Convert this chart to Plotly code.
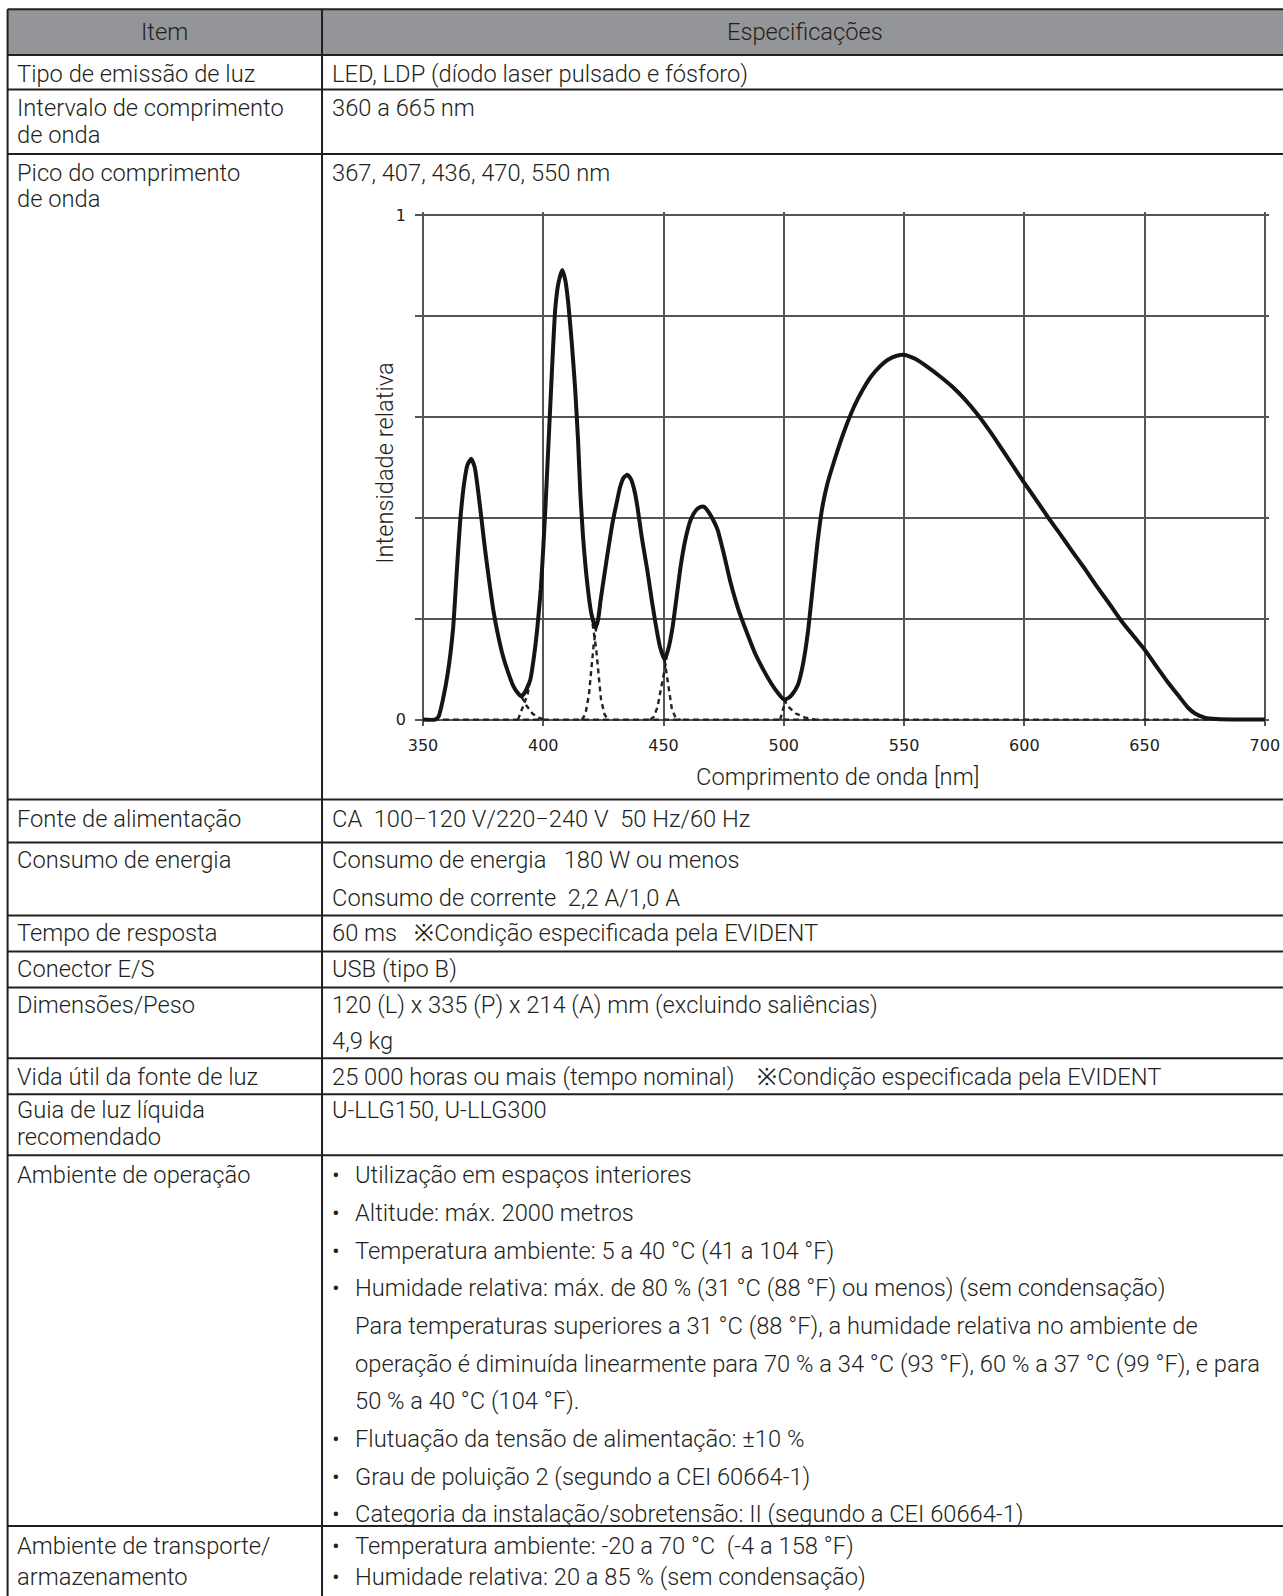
import plotly.graph_objects as go

# ---------------- chart data ----------------
wavelength = [350, 355, 356.5, 358.3, 360.4, 362.5, 364, 365.4, 367, 368.5,
              370, 371.5, 373, 374.5, 375.8, 377.5, 379.2, 381, 383.3, 385.5,
              387.5, 389.5, 390.8, 392.5, 394.6, 396, 397.5, 399, 400, 401,
              402, 403, 404, 405, 406.3, 407.9, 409.2, 410.4, 411.8, 413.3,
              414.5, 415.4, 416.5, 418.3, 420, 421.7, 422.8, 423.8, 425.5, 427,
              428.8, 430.8, 432, 433.5, 435, 436.5, 438, 439.2, 441, 443.3,
              445, 446.7, 448.5, 450.4, 452, 453.8, 455.5, 457.1, 459, 461.3,
              463.5, 465.2, 466.7, 468.5, 470.5, 472.5, 475, 477.9, 481, 485,
              488, 491.7, 495, 497.5, 500, 502, 503.5, 505.8, 508, 510,
              512, 514, 516, 518, 520.8, 525, 529.2, 533, 536.3, 540,
              543.3, 547, 550, 555, 560, 565, 570, 575, 580, 585,
              590, 595, 600, 605, 610, 615, 620, 625, 630, 635,
              640, 645, 650, 655, 660, 665, 668, 671, 675, 680,
              690, 700]
intensity = [0, 0, 0.006, 0.04, 0.095, 0.18, 0.29, 0.39, 0.465, 0.505,
             0.517, 0.50, 0.45, 0.39, 0.337, 0.275, 0.218, 0.172, 0.125, 0.092,
             0.067, 0.052, 0.046, 0.055, 0.079, 0.12, 0.18, 0.26, 0.34, 0.43,
             0.53, 0.63, 0.73, 0.815, 0.865, 0.891, 0.87, 0.825, 0.75, 0.653,
             0.55, 0.45, 0.365, 0.27, 0.21, 0.182, 0.198, 0.235, 0.29, 0.337,
             0.39, 0.436, 0.462, 0.48, 0.485, 0.476, 0.452, 0.42, 0.36, 0.295,
             0.24, 0.19, 0.145, 0.119, 0.14, 0.184, 0.245, 0.303, 0.355, 0.396,
             0.415, 0.421, 0.422, 0.413, 0.397, 0.376, 0.33, 0.271, 0.22, 0.168,
             0.132, 0.097, 0.07, 0.053, 0.040, 0.043, 0.05, 0.068, 0.11, 0.172,
             0.26, 0.35, 0.42, 0.465, 0.51, 0.57, 0.62, 0.655, 0.68, 0.70,
             0.713, 0.721, 0.723, 0.714, 0.698, 0.68, 0.66, 0.636, 0.608, 0.576,
             0.541, 0.505, 0.469, 0.435, 0.40, 0.367, 0.333, 0.30, 0.265, 0.232,
             0.198, 0.168, 0.139, 0.105, 0.072, 0.042, 0.024, 0.012, 0.004, 0.001,
             0, 0]

# dashed individual-component tails (visible below the valleys) and dashed baseline
tails = [
    ([391, 393, 395.5, 398, 400.5], [0.045, 0.028, 0.012, 0.004, 0.0]),
    ([389.5, 390.5, 392, 393.5, 394.6], [0.0, 0.012, 0.03, 0.05, 0.079]),
    ([420.5, 422, 423, 424, 425.5, 427], [0.19, 0.14, 0.09, 0.04, 0.01, 0.0]),
    ([416, 417.5, 419, 420, 421, 422.3], [0.0, 0.01, 0.05, 0.1, 0.15, 0.19]),
    ([450.4, 451.5, 452.5, 453.5, 455, 457], [0.119, 0.08, 0.045, 0.02, 0.004, 0.0]),
    ([444.5, 446, 447.5, 449, 450.5, 451.5], [0.0, 0.006, 0.025, 0.06, 0.1, 0.13]),
    ([500, 502, 505, 509, 513], [0.04, 0.025, 0.012, 0.004, 0.0]),
    ([498.5, 499.3, 500.3, 501], [0.0, 0.012, 0.03, 0.042]),
]
baseline_wl = [350, 700]
baseline_val = [0, 0]

x_tick_vals = [350, 400, 450, 500, 550, 600, 650, 700]
y_tick_vals = [0, 0.2, 0.4, 0.6, 0.8, 1]
y_tick_text = ["0", "", "", "", "", "1"]
x_title = "Comprimento de onda [nm]"
y_title = "Intensidade relativa"

# ---------------- table data ----------------
header = ["Item", "Especificações"]
items = [
    ["Tipo de emissão de luz"],
    ["Intervalo de comprimento", "de onda"],
    ["Pico do comprimento", "de onda"],
    ["Fonte de alimentação"],
    ["Consumo de energia"],
    ["Tempo de resposta"],
    ["Conector E/S"],
    ["Dimensões/Peso"],
    ["Vida útil da fonte de luz"],
    ["Guia de luz líquida", "recomendado"],
    ["Ambiente de operação"],
    ["Ambiente de transporte/", "armazenamento"],
]
specs = [
    ["LED, LDP (díodo laser pulsado e fósforo)"],
    ["360 a 665 nm"],
    ["367, 407, 436, 470, 550 nm"],
    ["CA  100−120 V/220−240 V  50 Hz/60 Hz"],
    ["Consumo de energia   180 W ou menos", "Consumo de corrente  2,2 A/1,0 A"],
    ["60 ms   ※Condição especificada pela EVIDENT"],
    ["USB (tipo B)"],
    ["120 (L) x 335 (P) x 214 (A) mm (excluindo saliências)", "4,9 kg"],
    ["25 000 horas ou mais (tempo nominal)    ※Condição especificada pela EVIDENT"],
    ["U-LLG150, U-LLG300"],
    ["• Utilização em espaços interiores",
     "• Altitude: máx. 2000 metros",
     "• Temperatura ambiente: 5 a 40 °C (41 a 104 °F)",
     "• Humidade relativa: máx. de 80 % (31 °C (88 °F) ou menos) (sem condensação)",
     "Para temperaturas superiores a 31 °C (88 °F), a humidade relativa no ambiente de",
     "operação é diminuída linearmente para 70 % a 34 °C (93 °F), 60 % a 37 °C (99 °F), e para",
     "50 % a 40 °C (104 °F).",
     "• Flutuação da tensão de alimentação: ±10 %",
     "• Grau de poluição 2 (segundo a CEI 60664-1)",
     "• Categoria da instalação/sobretensão: II (segundo a CEI 60664-1)"],
    ["• Temperatura ambiente: -20 a 70 °C  (-4 a 158 °F)",
     "• Humidade relativa: 20 a 85 % (sem condensação)"],
]

# ---------------- layout geometry ----------------
W, H = 1283, 1596
# mapping from wanted picture pixels to figure pixels
SX, OX = 0.9862, 6.9
SY, OY = 0.9945, 5.85

def px(x):
    return ((x - OX) / SX) / W

def py(y):
    return 1 - ((y - OY) / SY) / H

table_left, divider, table_right = 7.5, 322, W + 30
header_top, header_bottom = 9, 55
row_lines = [55, 89.5, 154, 800, 843, 916, 952, 988, 1059, 1095, 1156, 1527, 1800]
spec_gaps = [37, 37, 37, 37, 37.7, 37, 37, 35.6, 37, 37, 37.7, 31]
item_gaps = [26.5, 26.5, 26.5, 26.5, 26.5, 26.5, 26.5, 26.5, 26.5, 26.5, 26.5, 31]
first_line_offsets = [18.5, 18.5, 18.5, 19, 18, 18, 18, 18, 18.5, 16, 20, 20]
item_x, spec_x, bullet_text_x = 15, 330, 353

FONT = "Roboto, Liberation Sans, Arial, sans-serif"
TXT = "#231f20"
FS = 23.7

fig = go.Figure()

fig.add_trace(go.Scatter(x=baseline_wl, y=baseline_val, mode="lines",
                         line=dict(color="#222222", width=2.4, dash="6px,4px"),
                         hoverinfo="skip", showlegend=False))
for twl, tval in tails:
    fig.add_trace(go.Scatter(x=twl, y=tval, mode="lines",
                             line=dict(color="#222222", width=2.4, dash="5px,4px"),
                             hoverinfo="skip", showlegend=False))
fig.add_trace(go.Scatter(x=wavelength, y=intensity, mode="lines",
                         line=dict(color="#151515", width=4, shape="spline", smoothing=0.5),
                         showlegend=False, name="Intensidade relativa"))

shapes = []
shapes.append(dict(type="rect", xref="paper", yref="paper",
                   x0=px(table_left), x1=px(table_right), y0=py(header_bottom), y1=py(header_top),
                   fillcolor="#939598", line=dict(width=0), layer="below"))
for yl in [header_top] + row_lines[:-1]:
    shapes.append(dict(type="line", xref="paper", yref="paper",
                       x0=px(table_left), x1=px(table_right), y0=py(yl), y1=py(yl),
                       line=dict(color=TXT, width=2)))
for xl in [table_left, divider]:
    shapes.append(dict(type="line", xref="paper", yref="paper",
                       x0=px(xl), x1=px(xl), y0=py(header_top), y1=py(H + 40),
                       line=dict(color=TXT, width=2)))

annotations = []

def txt(x, y, s, anchor="left", size=FS, color=TXT, angle=0):
    annotations.append(dict(x=px(x), y=py(y), xref="paper", yref="paper", text=s,
                            showarrow=False, xanchor=anchor, yanchor="middle", textangle=angle,
                            font=dict(family=FONT, size=size, color=color, weight=300)))

txt((table_left + divider) / 2, 32, header[0], anchor="center")
txt((divider + W) / 2 + 3, 32, header[1], anchor="center")

for i, (it, sp) in enumerate(zip(items, specs)):
    top = row_lines[i]
    off = first_line_offsets[i]
    for k, line in enumerate(it):
        txt(item_x, top + off + k * item_gaps[i], line)
    has_bullets = any(s.startswith("• ") for s in sp)
    for k, line in enumerate(sp):
        y = top + off + k * spec_gaps[i]
        if line.startswith("• "):
            txt(spec_x, y, "•")
            txt(bullet_text_x, y, line[2:])
        elif has_bullets:
            txt(bullet_text_x, y, line)
        else:
            txt(spec_x, y, line)

# chart axis titles
txt(838, 777, x_title, anchor="center")
txt(385, 463, y_title, anchor="center", angle=-90)

# chart axes (350 at 423 px, 700 at 1265 px; 0 at 720 px, 1 at 215 px)
ppn = (1265 - 423) / 350.0
x0_px, x1_px = 415, 1269
x_range = [350 - (423 - x0_px) / ppn, 700 + (x1_px - 1265) / ppn]
ppu = 720 - 215
y0_px, y1_px = 726, 212
y_range = [-(y0_px - 720) / ppu, 1 + (215 - y1_px) / ppu]

GRID = "#555555"
TICKFONT = dict(family="DejaVu Sans", size=16, color="#1e1e1e")
fig.update_layout(
    width=W, height=H, autosize=False,
    margin=dict(l=0, r=0, t=0, b=0),
    paper_bgcolor="white", plot_bgcolor="white",
    shapes=shapes, annotations=annotations,
    showlegend=False,
    xaxis=dict(domain=[px(x0_px), px(x1_px)], range=x_range, tickvals=x_tick_vals,
               showgrid=True, gridcolor=GRID, gridwidth=1.8, zeroline=False, showline=False,
               ticks="", ticklabelstandoff=8, ticklabeloverflow="allow", tickfont=TICKFONT),
    yaxis=dict(domain=[py(y0_px), py(y1_px)], range=y_range, tickvals=y_tick_vals,
               ticktext=y_tick_text, showgrid=True, gridcolor=GRID, gridwidth=1.8,
               zeroline=False, showline=False, ticks="", ticklabelstandoff=8, tickfont=TICKFONT),
)

fig.write_html("out.html", config={"displayModeBar": False},
               post_script="document.body.style.margin='0';document.body.style.overflow='hidden';")
